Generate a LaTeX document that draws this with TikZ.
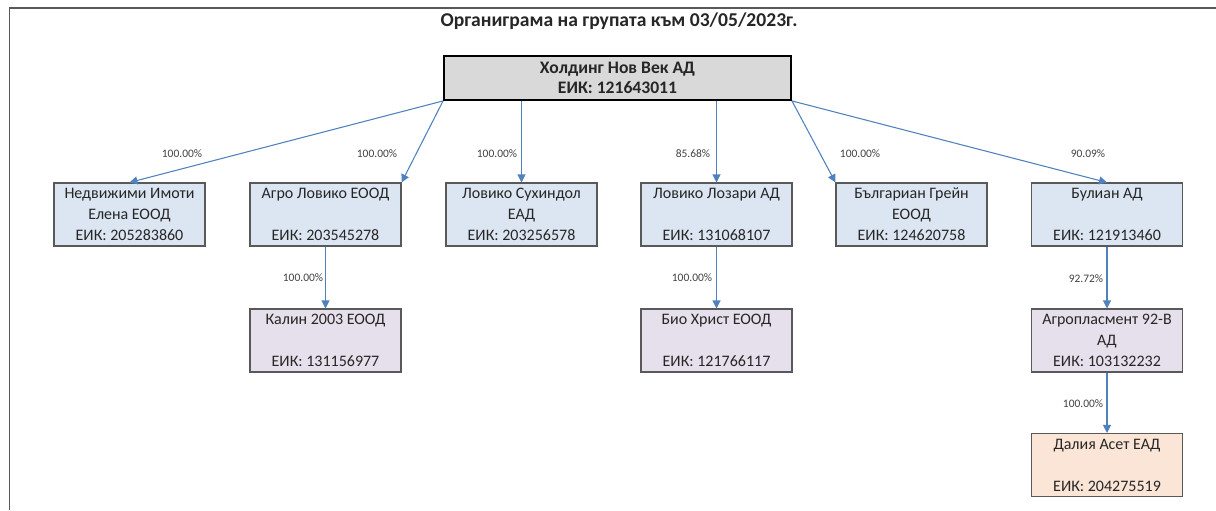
\documentclass[tikz,border=0pt]{standalone}
\usepackage{fontspec}
\setmainfont{Carlito}
\usetikzlibrary{arrows.meta,positioning,calc}

\definecolor{frameGrey}{HTML}{595959}
\definecolor{linkBlue}{HTML}{4F81BD}
\definecolor{holdFill}{HTML}{D9D9D9}
\definecolor{subFill}{HTML}{DCE6F2}
\definecolor{subsubFill}{HTML}{E6E0EC}
\definecolor{lastFill}{HTML}{FBE5D6}

\begin{document}
\begin{tikzpicture}[
		x=0.75pt, y=-0.75pt,
		every node/.style={align=center, text=black!85},
		holdBox/.style={draw=black, line width=1.4pt, fill=holdFill, minimum width=347*0.75pt, minimum height=44*0.75pt, inner sep=0pt, font=\bfseries\fontsize{13.2}{15}\selectfont},
		coBox/.style={draw=frameGrey, line width=0.8pt, fill=subFill, minimum width=151*0.75pt, minimum height=63*0.75pt, inner sep=0pt, font=\fontsize{12}{15.75}\selectfont},
		subBox/.style={coBox, fill=subsubFill},
		lastBox/.style={coBox, fill=lastFill},
		pct/.style={inner sep=0pt, text=black!75, font=\fontsize{8.6}{10}\selectfont},
		link/.style={draw=linkBlue, line width=0.8pt, -{Triangle[length=6pt,width=6pt]}}
	]

	\useasboundingbox (0,0) rectangle (1216,510);
	% frame
	\draw[frameGrey, line width=1.1pt] (9.5,510) -- (9.5,8) -- (1216,8);

	\node[font=\bfseries\fontsize{14.7}{16}\selectfont] (title) at (619,21) {Органиграма на групата към 03/05/2023г.};

	% holding
	\node[holdBox] (hold) at (617.5,78) {Холдинг Нов Век АД\\ЕИК: 121643011};

	% first level
	\node[coBox] (elena) at (129.5,214.5) {Недвижими Имоти\\Елена ЕООД\\ЕИК: 205283860};
	\node[coBox] (agro) at (325.5,214.5) {Агро Ловико ЕООД\\~\\ЕИК: 203545278};
	\node[coBox] (suhin) at (521.5,214.5) {Ловико Сухиндол\\ЕАД\\ЕИК: 203256578};
	\node[coBox] (lozari) at (716.5,214.5) {Ловико Лозари АД\\~\\ЕИК: 131068107};
	\node[coBox] (grain) at (911.5,214.5) {Българиан Грейн\\ЕООД\\ЕИК: 124620758};
	\node[coBox] (bulian) at (1107,214.5) {Булиан АД\\~\\ЕИК: 121913460};

	% second level
	\node[subBox] (kalin) at (325.5,340.5) {Калин 2003 ЕООД\\~\\ЕИК: 131156977};
	\node[subBox] (bio) at (716.5,340.5) {Био Христ ЕООД\\~\\ЕИК: 121766117};
	\node[subBox] (agropl) at (1107,340.5) {Агропласмент 92-В\\АД\\ЕИК: 103132232};

	% third level
	\node[lastBox] (dalia) at (1107,465) {Далия Асет ЕАД\\~\\ЕИК: 204275519};

	% links
	\draw[link] (hold.south west) -- (elena.north);
	\draw[link] (hold.south west) -- (agro.north east);
	\draw[link] (hold.south -| suhin.north) -- (suhin.north);
	\draw[link] (hold.south -| lozari.north) -- (lozari.north);
	\draw[link] (hold.south east) -- (grain.north west);
	\draw[link] (hold.south east) -- (bulian.north);
	\draw[link] (agro) -- (kalin);
	\draw[link] (lozari) -- (bio);
	\draw[link] (bulian) -- (agropl);
	\draw[link] (agropl) -- (dalia);

	% shares
	\node[pct] (pElena) at (182,154) {100.00\%};
	\node[pct] (pAgro) at (377,154) {100.00\%};
	\node[pct] (pSuhin) at (497,154) {100.00\%};
	\node[pct] (pLozari) at (693,154) {85.68\%};
	\node[pct] (pGrain) at (860,154) {100.00\%};
	\node[pct] (pBulian) at (1088,154) {90.09\%};
	\node[pct] (pKalin) at (303,278) {100.00\%};
	\node[pct] (pBio) at (692,278) {100.00\%};
	\node[pct] (pAgropl) at (1086,279) {92.72\%};
	\node[pct] (pDalia) at (1083,404) {100.00\%};
\end{tikzpicture}
\end{document}
